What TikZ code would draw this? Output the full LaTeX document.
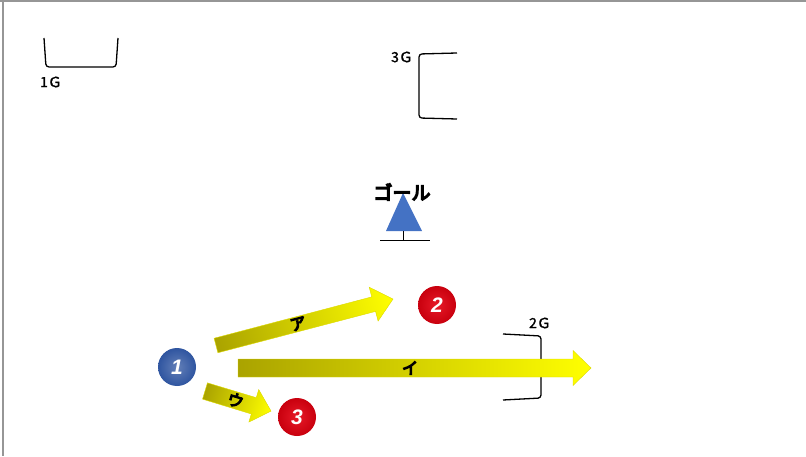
\documentclass[tikz,border=0pt]{standalone}
\usepackage{fontspec}
\setmainfont{Liberation Sans}
\newfontfamily\jp{Noto Sans CJK JP}[FakeBold=1.5]
\newfontfamily\jpb{Noto Sans CJK JP}[FakeBold=4]
\newfontfamily\jpbb{Noto Sans CJK JP}[FakeBold=7]
\definecolor{tailc}{RGB}{170,163,0}
\definecolor{headc}{RGB}{255,255,0}
\definecolor{goalblue}{RGB}{68,114,196}
\definecolor{dotblue}{RGB}{47,85,160}
\definecolor{dotred}{RGB}{228,0,16}
\definecolor{framegray}{RGB}{150,150,150}
\newcommand\blockarrow[9]{%
  \begin{scope}[transform canvas={shift={(#1,#2)},rotate=#3}]
    \shade[left color=tailc,right color=headc,draw=headc!60!tailc,line width=0.4pt]
      (0,{-#5/2}) -- ({#4-#7},{-#5/2}) -- ({#4-#7},{-#6/2}) -- (#4,0)
      -- ({#4-#7},{#6/2}) -- ({#4-#7},{#5/2}) -- (0,{#5/2}) -- cycle;
    \node[arrlabel] at (#9,0) {#8};
  \end{scope}}
\begin{document}
\begin{tikzpicture}[x=1pt,y=1pt,
  bracket/.style={line width=1.3pt,rounded corners=3pt},
  glabel/.style={font=\jp\fontsize{14}{14}\selectfont,inner sep=0pt},
  arrlabel/.style={font=\jpbb\fontsize{16}{16}\selectfont,inner sep=0pt},
  dot/.style={circle,minimum size=38pt,inner sep=0pt,text=white,
    font=\fontsize{21}{21}\selectfont\bfseries\itshape},
  bluedot/.style={dot,inner color=dotblue!75!white,outer color=dotblue},
  reddot/.style={dot,inner color=dotred!90!white,outer color=dotred!88!black}]
\useasboundingbox (0,0) rectangle (806,456);
\draw[framegray,line width=2pt] (0,455) -- (806,455);
\draw[framegray,line width=2pt] (2.5,456) -- (2.5,0);
% goals
\draw[bracket] (44,418) -- (46,389) -- (116,389) -- (118,418);
\node[glabel] (g1) at (51,374) {1Ｇ};
\draw[bracket] (457,403) -- (419,402) -- (419,338) -- (457,337);
\node[glabel] (g3) at (402,399) {3Ｇ};
\draw[bracket] (503,122) -- (541,120) -- (541,58) -- (503,56);
\node[glabel] (g2) at (540,133) {2Ｇ};
% central goal
\fill[goalblue] (403,263) -- (386,225) -- (422,225) -- cycle;
\draw[line width=1pt] (403,225) -- (403,216) (380,216) -- (430,216);
\node[font=\jpbb\fontsize{19}{19}\selectfont,inner sep=0pt] (goal) at (402,264) {ゴール};
% arrows
\blockarrow{216}{110.5}{14.7}{183}{15}{35}{20}{ア}{85}
\blockarrow{238}{88}{0}{353}{18}{35}{18}{イ}{172}
\blockarrow{205}{65}{-16.9}{69}{17}{34}{18}{ウ}{32}
% players
\node[bluedot] (p1) at (177,89) {1};
\node[reddot] (p2) at (437,151) {2};
\node[reddot] (p3) at (297,39) {3};
\end{tikzpicture}
\end{document}
